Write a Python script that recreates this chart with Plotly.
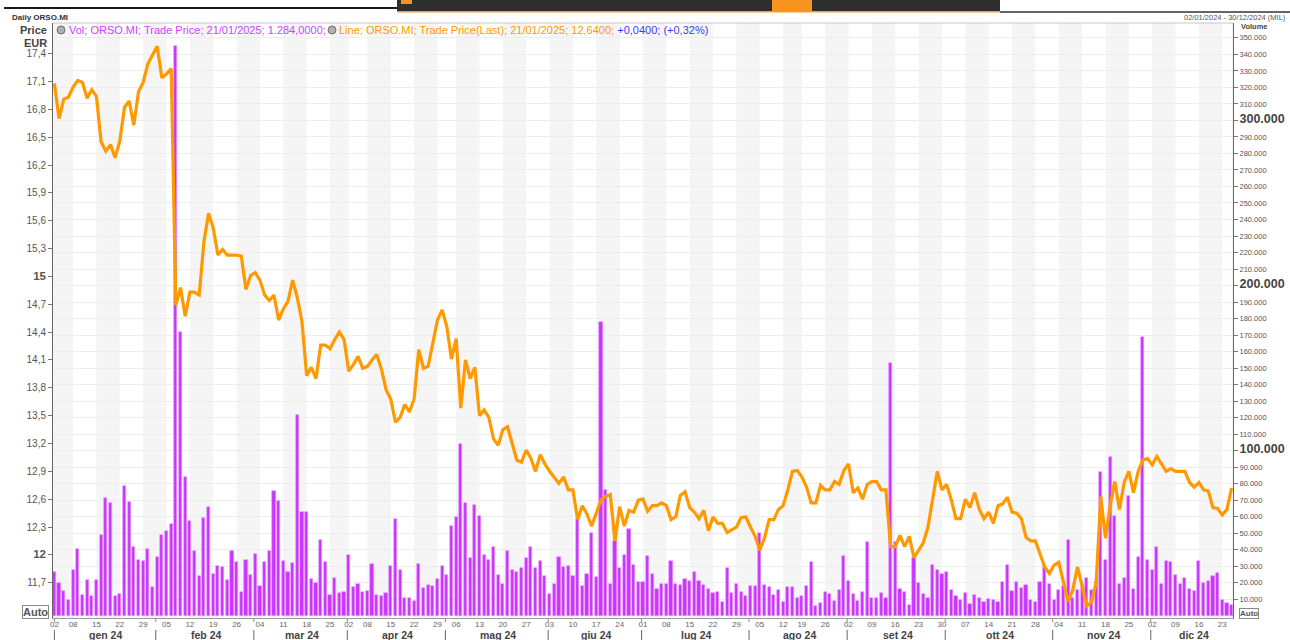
import pandas as pd
import plotly.graph_objects as go

# ---------------- data ----------------
holidays = ["2024-01-01", "2024-03-29", "2024-04-01", "2024-05-01", "2024-08-15",
            "2024-12-24", "2024-12-25", "2024-12-26", "2024-12-31"]
month_names = ["gen 24", "feb 24", "mar 24", "apr 24", "mag 24", "giu 24",
               "lug 24", "ago 24", "set 24", "ott 24", "nov 24", "dic 24"]

close_gen = [17.08, 16.70, 16.91, 16.93, 17.04, 17.11, 17.09, 16.92, 17.01, 16.94, 16.45,
             16.35, 16.42, 16.28, 16.46, 16.82, 16.89, 16.63, 16.99, 17.09, 17.29, 17.39]
close_feb = [17.48, 17.14, 17.18, 17.24, 14.69, 14.88, 14.57, 14.83, 14.83, 14.80, 15.37,
             15.68, 15.52, 15.23, 15.29, 15.23, 15.23, 15.23, 15.22, 14.86, 15.01]
close_mar = [15.04, 14.96, 14.80, 14.74, 14.80, 14.53, 14.65, 14.73, 14.96, 14.77, 14.51,
             13.93, 14.02, 13.90, 14.26, 14.26, 14.22, 14.32, 14.40, 14.32]
close_apr = [13.98, 14.05, 14.14, 14.01, 14.03, 14.10, 14.16, 14.00, 13.78, 13.68, 13.43,
             13.48, 13.62, 13.54, 13.68, 14.21, 14.01, 14.03, 14.28, 14.53, 14.64]
close_mag = [14.46, 14.11, 14.33, 13.58, 14.10, 13.90, 14.02, 13.50, 13.56, 13.48, 13.25,
             13.18, 13.35, 13.38, 13.19, 13.02, 13.00, 13.13, 13.04, 12.90, 13.08, 12.98]
close_giu = [12.90, 12.84, 12.77, 12.84, 12.70, 12.70, 12.38, 12.53, 12.44, 12.31, 12.46,
             12.59, 12.63, 12.65, 12.15, 12.52, 12.31, 12.48, 12.46, 12.59]
close_lug = [12.60, 12.47, 12.53, 12.53, 12.56, 12.53, 12.38, 12.41, 12.64, 12.68, 12.51,
             12.46, 12.39, 12.48, 12.26, 12.41, 12.34, 12.34, 12.24, 12.27, 12.30, 12.40, 12.41]
close_ago = [12.30, 12.20, 12.05, 12.18, 12.38, 12.38, 12.49, 12.53, 12.70, 12.90, 12.91,
             12.84, 12.73, 12.56, 12.56, 12.75, 12.70, 12.70, 12.79, 12.76, 12.91]
close_set = [12.98, 12.67, 12.72, 12.60, 12.76, 12.79, 12.79, 12.70, 12.70, 12.09, 12.09,
             12.21, 12.09, 12.20, 11.97, 12.05, 12.13, 12.30, 12.61, 12.90, 12.70]
close_ott = [12.76, 12.59, 12.39, 12.39, 12.60, 12.51, 12.67, 12.49, 12.39, 12.46, 12.34,
             12.53, 12.55, 12.62, 12.46, 12.45, 12.39, 12.19, 12.15, 12.15, 12.01, 11.87, 11.80]
close_nov = [11.89, 11.92, 11.70, 11.50, 11.62, 11.87, 11.67, 11.45, 11.49, 11.70, 12.63,
             12.18, 12.53, 12.79, 12.49, 12.78, 12.90, 12.67, 12.90, 13.02, 13.04]
close_dic = [12.97, 13.06, 12.98, 12.90, 12.93, 12.90, 12.90, 12.90, 12.78, 12.73, 12.78,
             12.70, 12.69, 12.51, 12.50, 12.43, 12.49, 12.72]

# volumes in thousands of shares
vol_gen = [26.5, 19.8, 14.9, 9.3, 27.6, 40.6, 12.6, 21.4, 11.7, 21.8, 49.2, 71.1, 68.4,
           12.1, 13.3, 78.6, 68.9, 41.5, 33.6, 33.0, 40.4, 17.4]
vol_feb = [35.7, 48.7, 51.2, 55.7, 344.9, 171.8, 83.9, 57.3, 39.2, 24.2, 59.1, 66.1, 25.3,
           29.9, 29.5, 21.4, 39.2, 32.7, 14.4, 33.6, 24.8]
vol_mar = [37.4, 17.9, 32.3, 39.2, 75.3, 69.6, 33.0, 26.5, 31.8, 121.4, 62.6, 63.0, 22.1,
           19.8, 46.2, 32.5, 12.8, 23.0, 13.7, 14.4]
vol_apr = [37.0, 17.4, 19.1, 14.4, 15.1, 31.1, 12.6, 12.1, 14.0, 29.9, 58.4, 27.9, 10.5,
           10.5, 9.1, 31.1, 16.8, 18.6, 17.9, 22.1, 30.2]
vol_mag = [24.8, 54.3, 60.1, 104.1, 68.4, 34.8, 67.0, 60.3, 37.1, 34.1, 41.7, 24.8, 19.1,
           39.2, 27.9, 26.5, 28.8, 35.3, 41.7, 29.0, 33.4, 24.4]
vol_giu = [13.3, 19.5, 35.7, 29.5, 30.2, 24.2, 58.4, 17.9, 25.5, 50.3, 23.7, 178.1, 76.2,
           19.1, 45.3, 29.0, 37.1, 52.6, 30.7, 20.2]
vol_lug = [20.2, 36.0, 25.3, 16.0, 19.5, 19.5, 33.0, 19.5, 18.4, 22.1, 20.9, 26.7, 20.9,
           18.6, 16.0, 13.7, 14.4, 8.6, 28.8, 14.0, 19.5, 14.4, 12.1]
vol_ago = [17.9, 17.9, 49.9, 18.4, 17.2, 12.6, 15.6, 8.6, 17.2, 17.2, 11.0, 12.1, 17.9,
           32.3, 5.9, 7.5, 14.4, 13.3, 9.1, 15.6, 36.4]
vol_set = [20.9, 13.3, 9.1, 14.4, 44.5, 10.5, 11.0, 14.0, 11.0, 153.4, 44.5, 16.0, 14.4,
           6.8, 35.3, 19.8, 13.3, 11.0, 30.7, 27.9, 25.5]
vol_ott = [26.7, 15.6, 12.1, 9.3, 14.0, 7.0, 12.6, 11.0, 8.6, 10.3, 9.8, 8.2, 20.7, 30.7,
           14.9, 20.7, 16.8, 18.4, 9.3, 8.6, 20.2, 30.7, 19.1]
vol_nov = [9.3, 15.6, 17.9, 45.7, 10.5, 15.6, 18.4, 23.0, 15.6, 20.9, 86.9, 34.1, 96.0,
           60.3, 19.1, 22.6, 72.3, 16.0, 35.7, 168.9, 33.6]
vol_dic = [27.9, 41.7, 19.1, 33.0, 32.5, 24.8, 19.1, 22.6, 16.3, 15.1, 33.0, 20.0, 21.0,
           24.0, 26.0, 9.3, 7.9, 6.4]

price_ticks = [11.7, 12.0, 12.3, 12.6, 12.9, 13.2, 13.5, 13.8, 14.1, 14.4, 14.7, 15.0,
               15.3, 15.6, 15.9, 16.2, 16.5, 16.8, 17.1, 17.4]
vol_ticks = [v * 10000 for v in range(1, 36)]

# ---------------- assemble ----------------
close = (close_gen + close_feb + close_mar + close_apr + close_mag + close_giu +
         close_lug + close_ago + close_set + close_ott + close_nov + close_dic)
vol_k = (vol_gen + vol_feb + vol_mar + vol_apr + vol_mag + vol_giu +
         vol_lug + vol_ago + vol_set + vol_ott + vol_nov + vol_dic)
volume = [v * 1000 for v in vol_k]

dates = pd.bdate_range("2024-01-02", "2024-12-30", freq="C", holidays=holidays)
assert len(dates) == len(close) == len(volume), (len(dates), len(close), len(volume))
idx = list(range(len(dates)))

week_starts = [i for i in idx if i == 0 or dates[i].weekday() < dates[i - 1].weekday()]
month_starts = [i for i in idx if i == 0 or dates[i].month != dates[i - 1].month]
month_ends = month_starts[1:] + [len(idx)]
# the last, one-day week gets no label (as in the original)
tick_weeks = [i for i in week_starts if i <= len(idx) - 3]

def fmt_price(v):
    s = ("%.1f" % v).replace(".", ",")
    if abs(v - round(v)) < 1e-9:
        return "<b><span style='font-size:11.5px'>%d</span></b>" % round(v)
    return s

def fmt_vol(v):
    s = "{:,}".format(int(v)).replace(",", ".")
    if v % 100000 == 0:
        return "<b><span style='font-size:12.5px;color:#444'>%s</span></b>" % s
    return s

# pixel helpers (figure is 1290 x 640, plot area 53..1233 x 23..618)
L, R, T, B = 53, 1233, 23, 618
def px(x):
    return (x - L) / (R - L)
def py(y):
    return (B - y) / (B - T)

FONT = "Liberation Sans"
fig = go.Figure()

fig.add_trace(go.Bar(
    x=idx, y=volume, yaxis="y", width=0.68,
    marker=dict(color="#cc33ff", line=dict(color="#e39cff", width=0.6)),
    hoverinfo="skip", showlegend=False))
fig.add_trace(go.Scatter(
    x=idx, y=close, yaxis="y2", mode="lines",
    line=dict(color="#ff9900", width=3.2), hoverinfo="skip", showlegend=False))

shapes = []
# alternating weekly background bands
bounds = week_starts + [len(idx) + 1]
for k in range(len(week_starts)):
    if k % 2 == 0:
        x0 = week_starts[k] if k > 0 else -1
        shapes.append(dict(type="rect", xref="x", yref="paper", x0=x0, x1=bounds[k + 1],
                           y0=0, y1=1, fillcolor="#f5f5f5", line=dict(width=0), layer="below"))
# month separators under the axis
for m in month_starts:
    xs = m - 0.3 if m > 0 else 0
    shapes.append(dict(type="line", xref="x", yref="paper", x0=xs, x1=xs,
                       y0=py(619), y1=py(622), line=dict(color="#888", width=1)))
    shapes.append(dict(type="line", xref="x", yref="paper", x0=xs, x1=xs,
                       y0=py(630), y1=py(640), line=dict(color="#666", width=1)))
# plot frame top
shapes.append(dict(type="line", xref="paper", yref="paper", x0=0, x1=1, y0=1, y1=1,
                   line=dict(color="#c8c8c8", width=1)))
# window chrome at the top
shapes += [
    dict(type="line", xref="paper", yref="paper", x0=px(4), x1=px(397), y0=py(8), y1=py(8),
         line=dict(color="#1a1a1a", width=2)),
    dict(type="rect", xref="paper", yref="paper", x0=px(397), x1=px(1000), y0=py(0), y1=py(12),
         fillcolor="#2e2e2e", line=dict(width=0)),
    dict(type="rect", xref="paper", yref="paper", x0=px(397), x1=px(1000), y0=py(11), y1=py(12.5),
         fillcolor="#f0a040", line=dict(width=0)),
    dict(type="rect", xref="paper", yref="paper", x0=px(772), x1=px(812), y0=py(0), y1=py(12),
         fillcolor="#f7931e", line=dict(width=0)),
    dict(type="rect", xref="paper", yref="paper", x0=px(401), x1=px(412), y0=py(0), y1=py(4),
         fillcolor="#f7931e", line=dict(width=0)),
    dict(type="line", xref="paper", yref="paper", x0=px(1000), x1=px(1290), y0=py(12), y1=py(12),
         line=dict(color="#333", width=1.5)),
    # legend icons
    dict(type="circle", xref="paper", yref="paper", x0=px(57), x1=px(65), y0=py(34), y1=py(26),
         fillcolor="#b0b0b0", line=dict(color="#707070", width=1)),
    dict(type="circle", xref="paper", yref="paper", x0=px(328), x1=px(336), y0=py(34), y1=py(26),
         fillcolor="#b0b0b0", line=dict(color="#707070", width=1)),
]

ann = []
for m, e, name in zip(month_starts, month_ends, month_names):
    ann.append(dict(x=(m + e - 1) / 2 + 0.5, y=py(635), xref="x", yref="paper", text=name,
                    showarrow=False, xanchor="center", yanchor="middle",
                    font=dict(family=FONT, size=10.5, color="#444", weight="bold")))
ann += [
    dict(x=px(10), y=py(17), xref="paper", yref="paper", text="<b>Daily ORSO.MI</b>",
         showarrow=False, xanchor="left", yanchor="middle",
         font=dict(family=FONT, size=8, color="#333")),
    dict(x=px(1288), y=py(17), xref="paper", yref="paper", text="02/01/2024 - 30/12/2024 (MIL)",
         showarrow=False, xanchor="right", yanchor="middle",
         font=dict(family=FONT, size=7.5, color="#555")),
    dict(x=px(49), y=py(30), xref="paper", yref="paper", text="<b>Price</b>",
         showarrow=False, xanchor="right", yanchor="middle",
         font=dict(family=FONT, size=11, color="#444")),
    dict(x=px(49), y=py(43), xref="paper", yref="paper", text="<b>EUR</b>",
         showarrow=False, xanchor="right", yanchor="middle",
         font=dict(family=FONT, size=11, color="#444")),
    dict(x=px(1239), y=py(27), xref="paper", yref="paper", text="<b>Volume</b>",
         showarrow=False, xanchor="left", yanchor="middle",
         font=dict(family=FONT, size=7.5, color="#444")),
    dict(x=px(67), y=py(30), xref="paper", yref="paper",
         text="Vol; ORSO.MI; Trade Price; 21/01/2025; 1.284,0000;",
         showarrow=False, xanchor="left", yanchor="middle",
         font=dict(family=FONT, size=11, color="#cc44ff")),
    dict(x=px(337), y=py(30), xref="paper", yref="paper",
         text="<span style='color:#ff9900'>Line; ORSO.MI; Trade Price(Last); 21/01/2025; 12,6400;</span>"
              " <span style='color:#3a3aff'>+0,0400; (+0,32%)</span>",
         showarrow=False, xanchor="left", yanchor="middle",
         font=dict(family=FONT, size=11, color="#ff9900")),
    dict(x=px(22), y=py(611.5), xref="paper", yref="paper", text="<b>Auto</b>",
         showarrow=False, xanchor="left", yanchor="middle", bgcolor="white",
         bordercolor="#888", borderwidth=1, borderpad=0,
         font=dict(family=FONT, size=11, color="#555")),
    dict(x=px(1239), y=py(613), xref="paper", yref="paper", text="<b>Auto</b>",
         showarrow=False, xanchor="left", yanchor="middle", bgcolor="white",
         bordercolor="#888", borderwidth=1, borderpad=0,
         font=dict(family=FONT, size=8, color="#555")),
]

fig.update_layout(
    width=1290, height=640, autosize=False,
    margin=dict(l=L, r=1290 - R, t=T, b=640 - B, pad=0, autoexpand=False),
    paper_bgcolor="white", plot_bgcolor="white",
    font=dict(family=FONT, color="#555"),
    showlegend=False, bargap=0,
    xaxis=dict(range=[-0.3, len(idx) - 0.7], showgrid=False, zeroline=False,
               automargin=False, tickangle=0, ticklabelstandoff=-2,
               showline=True, linecolor="#9a9a9a", linewidth=1,
               tickmode="array", tickvals=tick_weeks,
               ticktext=["%02d" % dates[i].day for i in tick_weeks],
               ticks="", tickfont=dict(family=FONT, size=8, color="#666")),
    yaxis=dict(side="right", range=[-1330, 359000], tickmode="array", automargin=False,
               tickvals=vol_ticks, ticktext=[fmt_vol(v) for v in vol_ticks],
               ticks="outside", ticklen=4, tickcolor="#777",
               showline=True, linecolor="#666", linewidth=1,
               showgrid=True, gridcolor="#ededed", gridwidth=1, zeroline=False,
               tickfont=dict(family=FONT, size=7.5, color="#555")),
    yaxis2=dict(side="left", overlaying="y", range=[11.32, 17.73], tickmode="array",
                automargin=False,
                tickvals=price_ticks, ticktext=[fmt_price(v) for v in price_ticks],
                ticks="outside", ticklen=4, tickcolor="#777",
                showline=True, linecolor="#666", linewidth=1,
                showgrid=False, zeroline=False,
                tickfont=dict(family=FONT, size=10, color="#555")),
    shapes=shapes, annotations=ann,
)

fig.write_html(
    "out.html",
    config={"displayModeBar": False, "responsive": False},
    post_script=(
        "document.documentElement.style.margin='0';"
        "document.documentElement.style.padding='0';"
        "document.documentElement.style.overflow='hidden';"
        "document.body.style.margin='0';document.body.style.padding='0';"
        "document.body.style.overflow='hidden';"
        "var g=document.getElementsByClassName('plotly-graph-div')[0];"
        "if(g){g.style.position='absolute';g.style.left='0px';g.style.top='0px';}"
    ),
)
